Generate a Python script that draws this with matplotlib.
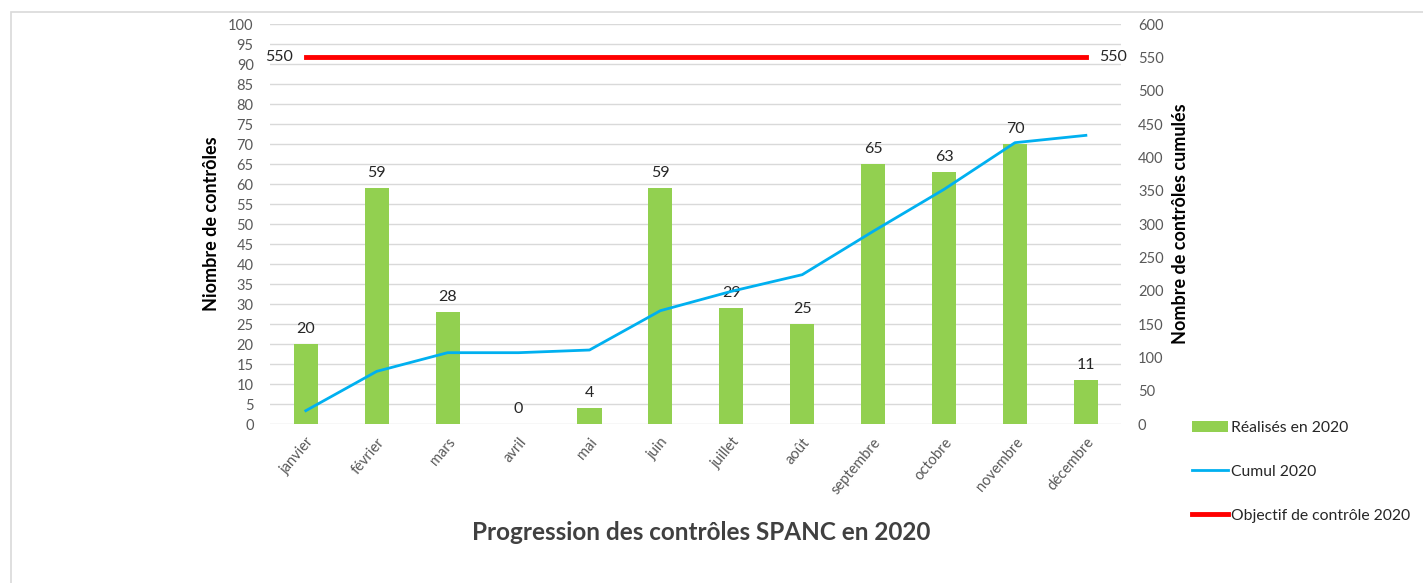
import numpy as np
import matplotlib.pyplot as plt
from matplotlib.patches import Rectangle

plt.rcParams['font.family'] = ['Lato', 'DejaVu Sans']

months = ['janvier', 'février', 'mars', 'avril', 'mai', 'juin', 'juillet',
          'août', 'septembre', 'octobre', 'novembre', 'décembre']
realises = [20, 59, 28, 0, 4, 59, 29, 25, 65, 63, 70, 11]
cumul = [20, 79, 107, 107, 111, 170, 199, 224, 289, 352, 422, 433]
objectif = [550] * 12

fig = plt.figure(figsize=(14.23, 5.83), dpi=100)
ax = fig.add_axes([0.190, 0.2727, 0.598, 0.6861])
ax2 = ax.twinx()

# chart border
fig.patches.append(Rectangle((11 / 1423, -0.1), 1.1, 1 - 12 / 583 + 0.1,
                             transform=fig.transFigure, fill=False,
                             edgecolor='#d9d9d9', lw=1.2))

x = np.arange(len(months))
bars = ax.bar(x, realises, width=0.34, color='#92d050', zorder=2,
              label='Réalisés en 2020')
for xi, v in zip(x, realises):
    ax.text(xi, v + 2.0, str(v), ha='center', va='bottom', fontsize=11.5,
            color='#262626')

ax.set_ylim(0, 100)
ax.set_yticks(range(0, 101, 5))
ax.set_xlim(-0.5, 11.5)
ax.grid(axis='y', color='#d9d9d9', lw=1, zorder=0)
ax.set_axisbelow(True)
ax.set_xticks(x)
ax.set_xticklabels(months, rotation=50, ha='right', rotation_mode='anchor',
                   fontsize=10.5, color='#595959')
ax.tick_params(axis='both', length=0, labelsize=10.5, labelcolor='#595959')
ax.tick_params(axis='x', pad=8)
ax.tick_params(axis='y', pad=12)
ax.set_ylabel('Niombre de contrôles', fontsize=13, fontweight='bold',
              color='#000000', labelpad=6)

line1, = ax2.plot(x, cumul, color='#00b0f0', lw=2, label='Cumul 2020', zorder=3)
line2, = ax2.plot(x, objectif, color='#ff0000', lw=3.5,
                  label='Objectif de contrôle 2020', zorder=3)
ax2.text(x[0] - 0.18, objectif[0], str(objectif[0]), ha='right', va='center',
         fontsize=11.5, color='#262626')
ax2.text(x[-1] + 0.18, objectif[-1], str(objectif[-1]), ha='left', va='center',
         fontsize=11.5, color='#262626')
ax2.set_ylim(0, 600)
ax2.set_yticks(range(0, 601, 50))
ax2.tick_params(axis='y', length=0, labelsize=10.5, labelcolor='#595959', pad=12)
ax2.set_ylabel('Nombre de contrôles cumulés', fontsize=13, fontweight='bold',
               color='#000000', labelpad=6)

for a in (ax, ax2):
    for s in a.spines.values():
        s.set_visible(False)

fig.legend(handles=[bars, line1, line2], loc='upper left',
           bbox_to_anchor=(1178 / 1423, 1 - 407 / 583), frameon=False,
           fontsize=11.3, labelspacing=1.9, handlelength=2.3, handletextpad=0.15,
           labelcolor='#262626')

fig.text(0.493, 1 - 532 / 583, 'Progression des contrôles SPANC en 2020',
         ha='center', va='center', fontsize=17.5, fontweight='bold',
         color='#404040')

fig.savefig('out.png', dpi=100)
